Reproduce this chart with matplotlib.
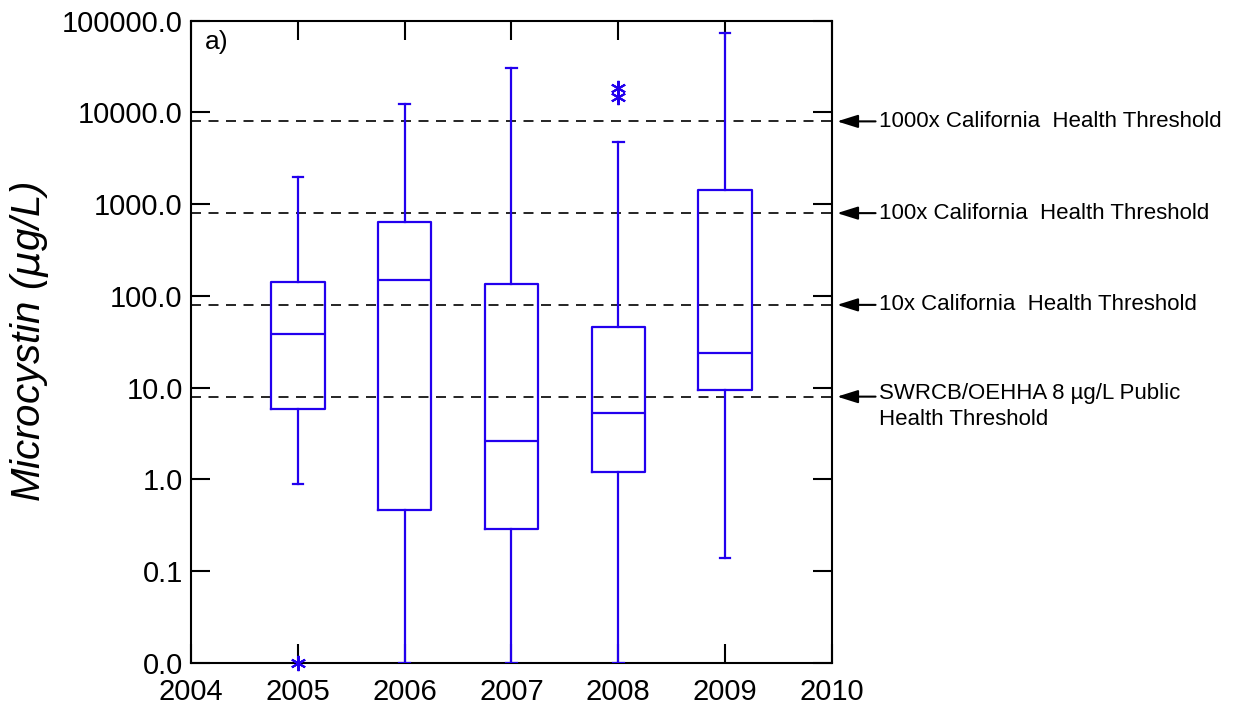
import matplotlib.pyplot as plt
from matplotlib import transforms

plt.rcParams['font.family'] = ['Liberation Sans', 'DejaVu Sans']

# yearly microcystin summary (ug/L)
years = [2005, 2006, 2007, 2008, 2009]
whisker_low = [0.89, 0.01, 0.01, 0.01, 0.14]
q1 = [5.9, 0.46, 0.29, 1.21, 9.5]
median = [38.4, 150.0, 2.64, 5.28, 24.2]
q3 = [142.0, 634.0, 135.0, 45.4, 1415.0]
whisker_high = [2000.0, 12400.0, 30300.0, 4800.0, 73600.0]
outliers = [[0.01], [], [], [18600.0, 14900.0], []]

thresholds = [8.0, 80.0, 800.0, 8000.0]
threshold_labels = ['SWRCB/OEHHA 8 \u00b5g/L Public\nHealth Threshold',
                    '10x California  Health Threshold',
                    '100x California  Health Threshold',
                    '1000x California  Health Threshold']
ytick_vals = [0.01, 0.1, 1, 10, 100, 1000, 10000, 100000]
xtick_vals = [2004, 2005, 2006, 2007, 2008, 2009, 2010]

blue = '#2200ee'

fig = plt.figure(figsize=(12.34, 7.10), dpi=100)
ax = fig.add_axes([0.1548, 0.0662, 0.5194, 0.9046])

stats = []
for i in range(len(years)):
    stats.append({'whislo': whisker_low[i], 'q1': q1[i], 'med': median[i],
                  'q3': q3[i], 'whishi': whisker_high[i], 'fliers': outliers[i]})

line = dict(color=blue, linewidth=1.6)
bp = ax.bxp(stats, positions=years, widths=0.5, capwidths=0.1,
            boxprops=line, whiskerprops=line, capprops=line, medianprops=line,
            flierprops=dict(marker=(6, 2, 0), markersize=11, markeredgecolor=blue,
                            markeredgewidth=1.5, linestyle='none'),
            manage_ticks=False, zorder=3)
for f in bp['fliers']:
    f.set_clip_on(False)
    f.set_zorder(5)

for t in thresholds:
    ax.axhline(t, color='black', linewidth=1.2, dashes=(6, 4.5), zorder=2)

ax.set_yscale('log')
ax.set_ylim(0.01, 100000)
ax.set_xlim(2004, 2010)
ax.set_yticks(ytick_vals)
ax.set_yticklabels(['%.1f' % v for v in ytick_vals])
ax.set_xticks(xtick_vals)
ax.set_xticklabels([str(x) for x in xtick_vals])
ax.minorticks_off()
ax.tick_params(direction='in', length=14, width=1.5, labelsize=21,
               top=True, right=True, pad=6)
ax.tick_params(axis='x', pad=11)
for s in ax.spines.values():
    s.set_linewidth(1.5)

ax.set_ylabel('Microcystin ($\\mu$g/L)', fontsize=29, style='italic', labelpad=8)
ax.text(0.022, 0.985, 'a)', transform=ax.transAxes, fontsize=19, va='top')

# arrows and labels for the threshold lines
blend = transforms.blended_transform_factory(ax.transAxes, ax.transData)
for t, lab in zip(thresholds, threshold_labels):
    ax.annotate('', xy=(1.008, t), xycoords=blend, xytext=(1.068, t),
                textcoords=blend,
                arrowprops=dict(arrowstyle='-|>,head_length=0.7,head_width=0.22',
                                color='black', lw=1.5,
                                mutation_scale=18, shrinkA=0, shrinkB=0))
    if '\n' in lab:
        ax.text(1.074, t, lab, transform=transforms.offset_copy(blend, fig=fig, y=10, units='points'),
                fontsize=16, va='top', ha='left', linespacing=1.3)
    else:
        ax.text(1.074, t, lab, transform=blend, fontsize=16, va='center', ha='left')

fig.savefig('out.png', dpi=100)
